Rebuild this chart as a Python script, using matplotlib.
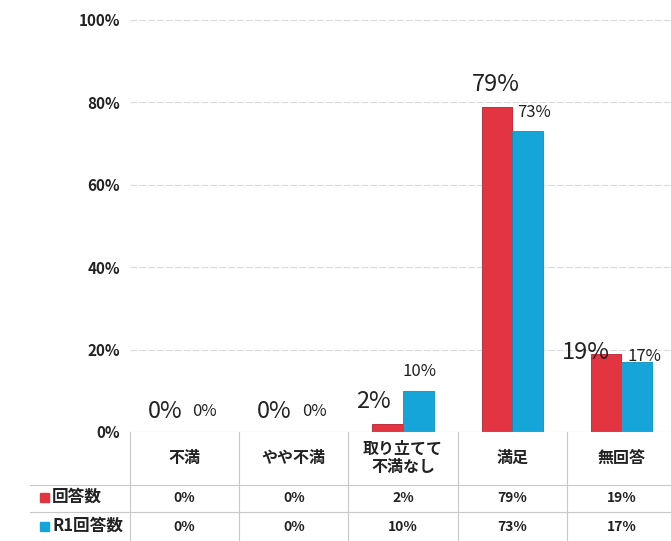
import matplotlib.pyplot as plt
from matplotlib.patches import Rectangle

plt.rcParams['font.family'] = ['Noto Sans CJK JP', 'DejaVu Sans']

categories = ['不満', 'やや不満', '取り立てて\n不満なし', '満足', '無回答']
series_names = ['回答数', 'R1回答数']
current = [0, 0, 2, 79, 19]
previous = [0, 0, 10, 73, 17]
yticks = [0, 20, 40, 60, 80, 100]

red = '#E33441'
blue = '#16A5D9'

# label placement tweaks (pixels), copied from the hand-placed labels
red_off = [(-4, 21), (-4, 21), (-14, 22), (-1, 22), (-20, 1)]
blue_off = [(5, 21), (5, 21), (1, 19), (7, 19), (8, 5)]

W, H = 671, 541
fig = plt.figure(figsize=(W / 100, H / 100), dpi=100)

def fx(px):
    return px / W

def fy(py):
    return (H - py) / H

left_px, right_px = 130, 676
top_px, base_px = 20, 432
ax = fig.add_axes([fx(left_px), fy(base_px), fx(right_px - left_px), fy(top_px) - fy(base_px)])

x = list(range(len(categories)))
bw = 0.28
ax.bar([i - bw / 2 for i in x], current, bw, color=red, edgecolor='#B8202C', linewidth=0.6)
ax.bar([i + bw / 2 for i in x], previous, bw, color=blue, edgecolor='#0E8DBC', linewidth=0.6)

k = 0.72  # pixels -> points
for i in x:
    ax.annotate(f'{current[i]}%', (i - bw / 2, current[i]),
                xytext=(red_off[i][0] * k, red_off[i][1] * k), textcoords='offset points',
                ha='center', va='center', fontsize=17, color='#222222')
    ax.annotate(f'{previous[i]}%', (i + bw / 2, previous[i]),
                xytext=(blue_off[i][0] * k, blue_off[i][1] * k), textcoords='offset points',
                ha='center', va='center', fontsize=12, color='#222222')

ax.set_xlim(-0.5, 4.5)
ax.set_ylim(0, 100)
ax.set_yticks(yticks)
ax.set_yticklabels([f'{t}%' for t in yticks], fontsize=11, color='#222222', fontweight='bold')
ax.tick_params(axis='y', length=0, pad=7)
ax.set_xticks([])
for s in ax.spines.values():
    s.set_visible(False)
for t in yticks[1:]:
    ax.axhline(t, color='#d9d9d9', linewidth=0.8, linestyle=(0, (6, 2)), zorder=0)
ax.axhline(0, color='#bdbdbd', linewidth=0.8)

# data table below the chart
col_w = (right_px - left_px) / len(categories)
line_c = '#c8c8c8'
fig.add_artist(plt.Line2D([fx(30), 1], [fy(485), fy(485)], color=line_c, lw=0.8))
fig.add_artist(plt.Line2D([fx(30), 1], [fy(512), fy(512)], color=line_c, lw=0.8))
for c in range(len(categories)):
    xp = left_px + c * col_w
    fig.add_artist(plt.Line2D([fx(xp), fx(xp)], [fy(432), fy(541)], color=line_c, lw=0.8))

for c, cat in enumerate(categories):
    cx = fx(left_px + (c + 0.5) * col_w)
    fig.text(cx, fy(458), cat, ha='center', va='center', fontsize=11.5, color='#222222',
             linespacing=1.15, fontweight='bold')
    fig.text(cx, fy(498.5), f'{current[c]}%', ha='center', va='center', fontsize=10,
             color='#222222', fontweight='bold')
    fig.text(cx, fy(527), f'{previous[c]}%', ha='center', va='center', fontsize=10,
             color='#222222', fontweight='bold')

for r, (name, col) in enumerate(zip(series_names, [red, blue])):
    yc = fy(497 + r * 29)
    fig.add_artist(Rectangle((fx(40), yc - 4.5 / H), 9 / W, 9 / H, color=col,
                             transform=fig.transFigure))
    fig.text(fx(52), yc, name, ha='left', va='center', fontsize=12, color='#222222',
             fontweight='bold')

fig.savefig('out.png', dpi=100)
